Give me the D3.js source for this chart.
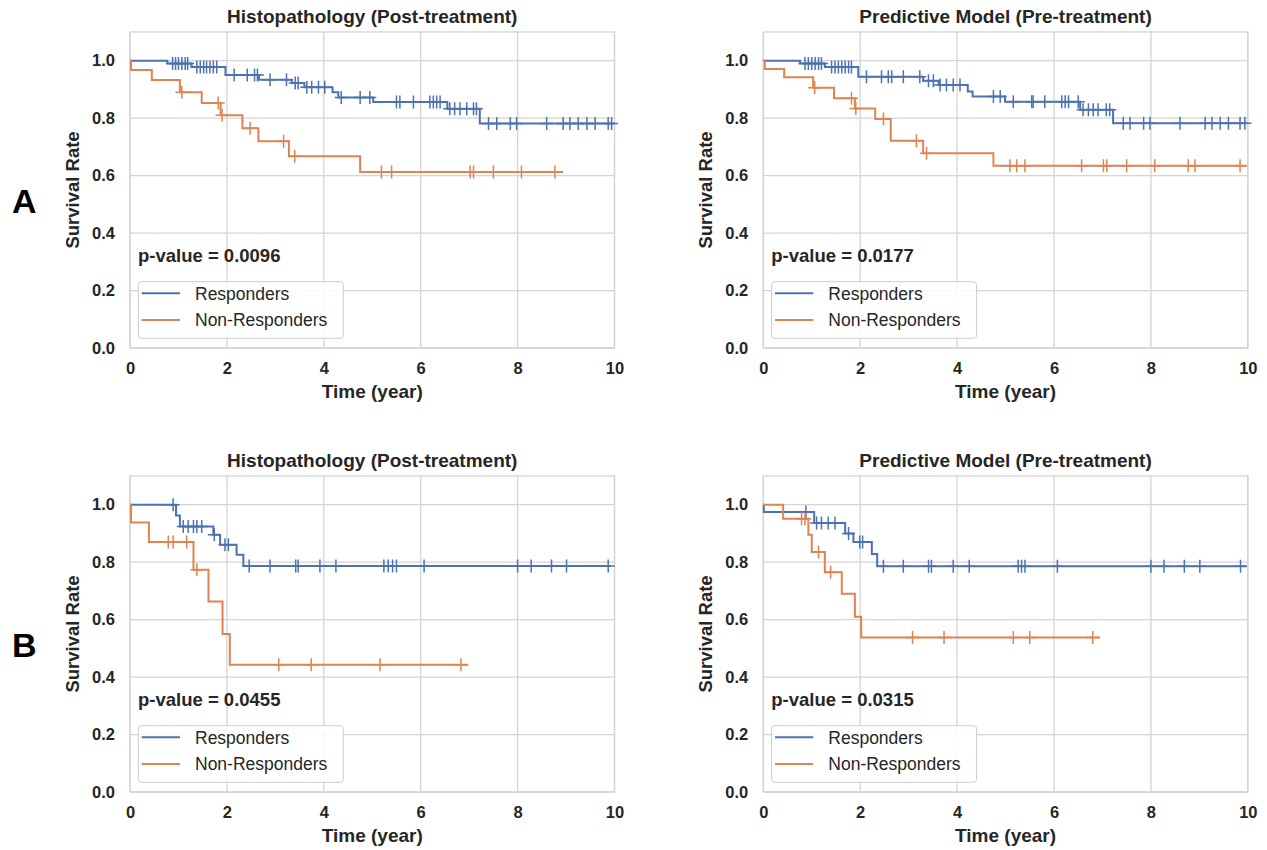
<!DOCTYPE html>
<html>
<head>
<meta charset="utf-8">
<script src="https://cdn.jsdelivr.net/npm/d3@7"></script>
<style>
  html, body { margin: 0; padding: 0; background: #ffffff; }
  svg { display: block; }
  text { font-family: "Liberation Sans", Arial, Helvetica, sans-serif; fill: #262626; }
</style>
</head>
<body>
<svg id="chart" width="1267" height="850"></svg>
<script>
// ---------------- DATA ----------------
const panelTitles = ["Histopathology (Post-treatment)", "Predictive Model (Pre-treatment)",
                     "Histopathology (Post-treatment)", "Predictive Model (Pre-treatment)"];
const pValues = ["p-value = 0.0096", "p-value = 0.0177", "p-value = 0.0455", "p-value = 0.0315"];
const rowLabels = ["A", "B"];
const seriesNames = ["Responders", "Non-Responders"];
const xTicks = [0, 2, 4, 6, 8, 10];
const yTicks = [0.0, 0.2, 0.4, 0.6, 0.8, 1.0];

// Panel A, Histopathology — Responders
const aHpRespTimes = [0, 0.77, 1.27, 1.97, 2.66, 3.34, 3.6, 4.18, 4.3, 5.02, 6.55, 7.22];
const aHpRespSurv  = [1.0, 0.99, 0.978, 0.95, 0.934, 0.922, 0.908, 0.89, 0.872, 0.856, 0.833, 0.781];
const aHpRespCensor = [0.88, 0.94, 1.0, 1.07, 1.14, 1.19, 1.38, 1.45, 1.52, 1.58, 1.65, 1.72, 1.79,
  2.15, 2.42, 2.57, 2.63, 2.89, 3.23, 3.41, 3.47, 3.65, 3.75, 3.89, 4.02, 4.36, 4.75, 4.95,
  5.5, 5.57, 5.85, 6.19, 6.26, 6.33, 6.4, 6.6, 6.7, 6.81, 6.95, 7.09, 7.15,
  7.4, 7.57, 7.85, 7.98, 8.6, 8.94, 9.08, 9.25, 9.43, 9.6, 9.87, 9.94];
const aHpRespEnd = 9.98;
// Panel A, Histopathology — Non-Responders
const aHpNonTimes = [0, 0.02, 0.45, 1.03, 1.48, 1.87, 2.32, 2.65, 3.28, 4.75];
const aHpNonSurv  = [1.0, 0.968, 0.933, 0.89, 0.853, 0.81, 0.765, 0.72, 0.667, 0.613];
const aHpNonCensor = [1.07, 1.82, 1.9, 2.48, 3.17, 3.4, 5.19, 5.4, 7.02, 7.09, 7.5, 8.08, 8.77];
const aHpNonEnd = 8.94;

// Panel A, Predictive model — Responders
const aPmRespTimes = [0, 0.76, 1.27, 1.96, 3.3, 3.62, 4.22, 4.32, 4.99, 6.54, 7.22];
const aPmRespSurv  = [1.0, 0.99, 0.978, 0.944, 0.93, 0.915, 0.893, 0.875, 0.857, 0.829, 0.782];
const aPmRespCensor = [0.86, 0.93, 1.0, 1.07, 1.14, 1.2, 1.41, 1.48, 1.55, 1.62, 1.69, 1.76, 1.82,
  2.13, 2.44, 2.58, 2.65, 2.89, 3.23, 3.41, 3.51, 3.65, 3.78, 3.92, 4.06, 4.75, 4.89,
  5.16, 5.54, 5.57, 5.81, 6.16, 6.23, 6.3, 6.5, 6.6, 6.71, 6.81, 6.91, 7.08, 7.15,
  7.43, 7.57, 7.85, 7.98, 8.6, 9.12, 9.26, 9.43, 9.6, 9.84, 9.94];
const aPmRespEnd = 9.98;
// Panel A, Predictive model — Non-Responders
const aPmNonTimes = [0, 0.03, 0.43, 1.03, 1.46, 1.89, 2.31, 2.63, 3.3, 4.75];
const aPmNonSurv  = [1.0, 0.971, 0.942, 0.906, 0.869, 0.834, 0.797, 0.721, 0.678, 0.634];
const aPmNonCensor = [1.06, 1.82, 1.91, 2.48, 3.16, 3.37, 5.09, 5.23, 5.4, 6.57, 7.02, 7.09, 7.5, 8.08, 8.77, 8.91, 9.84];
const aPmNonEnd = 9.98;

// Panel B, Histopathology — Responders
const bHpRespTimes = [0, 0.95, 1.03, 1.72, 1.86, 2.2, 2.34];
const bHpRespSurv  = [1.0, 0.962, 0.924, 0.895, 0.861, 0.826, 0.787];
const bHpRespCensor = [0.89, 1.1, 1.2, 1.31, 1.38, 1.48, 1.74, 1.96, 2.03, 2.46, 2.89, 3.42, 3.47,
  3.92, 4.25, 5.24, 5.33, 5.42, 5.5, 6.07, 8.0, 8.28, 8.7, 9.01, 9.87];
const bHpRespEnd = 9.93;
// Panel B, Histopathology — Non-Responders
const bHpNonTimes = [0, 0.02, 0.39, 1.31, 1.62, 1.91, 2.06];
const bHpNonSurv  = [1.0, 0.938, 0.87, 0.774, 0.663, 0.55, 0.443];
const bHpNonCensor = [0.79, 0.89, 1.17, 1.38, 3.07, 3.74, 5.16, 6.83];
const bHpNonEnd = 6.98;

// Panel B, Predictive model — Responders
const bPmRespTimes = [0, 0.01, 1.05, 1.69, 1.86, 2.24, 2.35];
const bPmRespSurv  = [1.0, 0.975, 0.936, 0.9, 0.87, 0.828, 0.786];
const bPmRespCensor = [0.88, 1.1, 1.2, 1.34, 1.48, 1.76, 1.99, 2.05, 2.48, 2.89, 3.41, 3.47,
  3.92, 4.25, 5.26, 5.33, 5.4, 6.07, 8.0, 8.27, 8.69, 9.01, 9.85];
const bPmRespEnd = 9.97;
// Panel B, Predictive model — Non-Responders
const bPmNonTimes = [0, 0.41, 0.93, 1.0, 1.27, 1.62, 1.89, 2.02];
const bPmNonSurv  = [1.0, 0.951, 0.895, 0.835, 0.765, 0.69, 0.61, 0.538];
const bPmNonCensor = [0.79, 0.86, 1.14, 1.39, 3.08, 3.73, 5.16, 5.5, 6.8];
const bPmNonEnd = 6.95;

// ---------------- LAYOUT / STYLE ----------------
const colors = ["#4c72b0", "#dd8452"];
const colX = [130, 763.3];
const rowBottom = [348, 792];
const plotW = 484.5;
const unitH = 287.3;

const panels = [
  { row: 0, col: 0, series: [
      { t: aHpRespTimes, s: aHpRespSurv, c: aHpRespCensor, end: aHpRespEnd },
      { t: aHpNonTimes, s: aHpNonSurv, c: aHpNonCensor, end: aHpNonEnd } ] },
  { row: 0, col: 1, series: [
      { t: aPmRespTimes, s: aPmRespSurv, c: aPmRespCensor, end: aPmRespEnd },
      { t: aPmNonTimes, s: aPmNonSurv, c: aPmNonCensor, end: aPmNonEnd } ] },
  { row: 1, col: 0, series: [
      { t: bHpRespTimes, s: bHpRespSurv, c: bHpRespCensor, end: bHpRespEnd },
      { t: bHpNonTimes, s: bHpNonSurv, c: bHpNonCensor, end: bHpNonEnd } ] },
  { row: 1, col: 1, series: [
      { t: bPmRespTimes, s: bPmRespSurv, c: bPmRespCensor, end: bPmRespEnd },
      { t: bPmNonTimes, s: bPmNonSurv, c: bPmNonCensor, end: bPmNonEnd } ] }
];

const svg = d3.select("#chart");
const gridColor = "#d4d4d4";

panels.forEach((p, i) => {
  const x0 = colX[p.col];
  const yb = rowBottom[p.row];
  const x = d3.scaleLinear().domain([0, 10]).range([x0, x0 + plotW]);
  const y = d3.scaleLinear().domain([0, 1.1]).range([yb, yb - 1.1 * unitH]);
  const g = svg.append("g");

  // grid
  g.selectAll(".gx").data(xTicks).enter().append("line")
    .attr("x1", d => x(d)).attr("x2", d => x(d))
    .attr("y1", y(0)).attr("y2", y(1.1))
    .attr("stroke", gridColor).attr("stroke-width", 1.3);
  g.selectAll(".gy").data(yTicks).enter().append("line")
    .attr("x1", x(0)).attr("x2", x(10))
    .attr("y1", d => y(d)).attr("y2", d => y(d))
    .attr("stroke", gridColor).attr("stroke-width", 1.3);
  // frame
  g.append("rect").attr("x", x(0)).attr("y", y(1.1))
    .attr("width", x(10) - x(0)).attr("height", y(0) - y(1.1))
    .attr("fill", "none").attr("stroke", gridColor).attr("stroke-width", 1.3);

  // axes (labels only)
  const ax = d3.axisBottom(x).tickValues(xTicks).tickSize(0).tickPadding(14).tickFormat(d3.format("d"));
  const axg = g.append("g").attr("transform", `translate(0,${yb})`).call(ax);
  const ay = d3.axisLeft(y).tickValues(yTicks).tickSize(0).tickPadding(15).tickFormat(d3.format(".1f"));
  const ayg = g.append("g").attr("transform", `translate(${x0},0)`).call(ay);
  [axg, ayg].forEach(a => {
    a.select(".domain").remove();
    a.selectAll("text").style("font-size", "16.5px").style("font-weight", "bold")
      .style("font-family", '"Liberation Sans", Arial, sans-serif').attr("fill", "#262626");
  });

  // curves
  const line = d3.line().x(d => x(d[0])).y(d => y(d[1])).curve(d3.curveStepAfter);
  p.series.forEach((s, k) => {
    const pts = s.t.map((t, j) => [t, s.s[j]]);
    pts.push([s.end, s.s[s.s.length - 1]]);
    g.append("path").attr("d", line(pts)).attr("fill", "none")
      .attr("stroke", colors[k]).attr("stroke-width", 2);
    const survAt = t => {
      let v = s.s[0];
      for (let j = 0; j < s.t.length; j++) if (s.t[j] <= t) v = s.s[j];
      return v;
    };
    const m = 6.5;
    g.selectAll(null).data(s.c).enter().append("path")
      .attr("d", t => `M${x(t)},${y(survAt(t)) - m}V${y(survAt(t)) + m}M${x(t) - m},${y(survAt(t))}H${x(t) + m}`)
      .attr("stroke", colors[k]).attr("stroke-width", 1.5).attr("fill", "none");
  });

  // title
  g.append("text").attr("x", x(5)).attr("y", y(1.1) - 9)
    .attr("text-anchor", "middle").style("font-size", "19px").style("font-weight", "bold")
    .text(panelTitles[i]);
  // x label
  g.append("text").attr("x", x(5)).attr("y", yb + 50)
    .attr("text-anchor", "middle").style("font-size", "19px").style("font-weight", "bold")
    .text("Time (year)");
  // y label
  g.append("text").attr("transform", `translate(${x0 - 51},${y(0.55)}) rotate(-90)`)
    .attr("text-anchor", "middle").style("font-size", "18.5px").style("font-weight", "bold")
    .text("Survival Rate");
  // p-value
  g.append("text").attr("x", x0 + 8).attr("y", y(0.3))
    .style("font-size", "18.5px").style("font-weight", "bold")
    .text(pValues[i]);

  // legend
  const lg = g.append("g").attr("transform", `translate(${x0 + 8.3},${yb - 66.3})`);
  lg.append("rect").attr("width", 205).attr("height", 56.6).attr("rx", 3)
    .attr("fill", "#ffffff").attr("fill-opacity", 0.85)
    .attr("stroke", "#cccccc").attr("stroke-width", 1);
  seriesNames.forEach((nm, k) => {
    const ly = 11.6 + k * 26.7;
    lg.append("line").attr("x1", 3.4).attr("x2", 41.7).attr("y1", ly).attr("y2", ly)
      .attr("stroke", colors[k]).attr("stroke-width", 2);
    lg.append("text").attr("x", 56.7).attr("y", ly).attr("dy", "0.36em")
      .style("font-size", "17.5px").text(nm);
  });
});

// Row labels
rowLabels.forEach((lab, r) => {
  svg.append("text").attr("x", 12).attr("y", rowBottom[r] - 135)
    .style("font-size", "34px").style("font-weight", "bold")
    .style("fill", "#000").text(lab);
});
</script>
</body>
</html>
